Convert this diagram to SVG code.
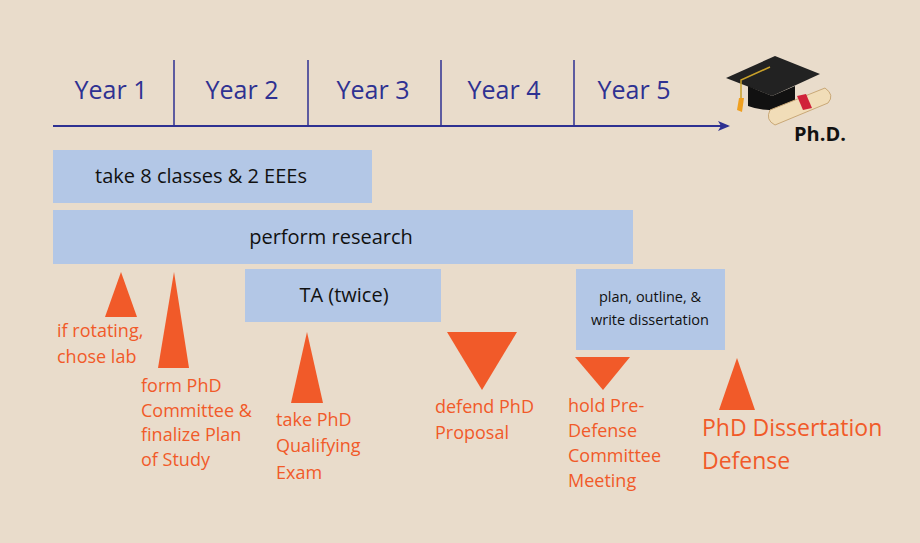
<svg xmlns="http://www.w3.org/2000/svg" width="920" height="543" viewBox="0 0 920 543">
<style>
.yr{font-family:"Open Sans","Liberation Sans",sans-serif;font-size:25px;fill:#2e3192;text-anchor:middle}
.bx{fill:#b3c7e6}
.bt{font-family:"Open Sans","Liberation Sans",sans-serif;font-size:20px;fill:#111;text-anchor:middle}
.sm{font-size:14.5px}
.ot{font-family:"Open Sans","Liberation Sans",sans-serif;font-size:18px;fill:#f15a29}
.lg{font-size:23px}
.tri{fill:#f15a29}
</style>
<defs><marker id="ah" markerWidth="12" markerHeight="10" refX="10" refY="5" orient="auto" markerUnits="userSpaceOnUse"><path d="M0,0 L12,5 L0,10 L3,5 Z" fill="#2e3192"/></marker></defs>
<rect width="920" height="543" fill="#e9dccb"/>
<g id="timeline">
<line x1="53" y1="126" x2="728" y2="126" stroke="#2e3192" stroke-width="2" marker-end="url(#ah)"/>
<g stroke="#2e3192" stroke-width="1.5"><line x1="174" y1="60" x2="174" y2="126"/><line x1="308" y1="60" x2="308" y2="126"/><line x1="441" y1="60" x2="441" y2="126"/><line x1="574" y1="60" x2="574" y2="126"/></g>
<text class="yr" x="111" y="99">Year 1</text><text class="yr" x="242" y="99">Year 2</text><text class="yr" x="373" y="99">Year 3</text><text class="yr" x="504" y="99">Year 4</text><text class="yr" x="634" y="99">Year 5</text>
</g>
<g id="phd">
<path d="M726,78 L775,56 L820,74 L772,96 Z" fill="#222"/>
<path d="M748,86 L748,106 Q772,115 795,104 L795,86 L772,96 Z" fill="#111"/>
<path d="M770,67 L741,80 L741,100" stroke="#c8a02a" stroke-width="1.5" fill="none"/>
<path d="M739,98 L744,98 L742,112 L737,110 Z" fill="#f0a020"/>
<path d="M770,110 L825,88 Q835,95 828,103 L775,125 Q765,120 770,110 Z" fill="#f1ddb8" stroke="#c9a877" stroke-width="1"/>
<path d="M797,96 L803,110 L812,108 L806,94 Z" fill="#d0223a"/>
<text x="794" y="141" font-family="'Open Sans','Liberation Sans',sans-serif" font-size="20" font-weight="bold" fill="#111">Ph.D.</text>
</g>
<g id="classes"><rect class="bx" x="53" y="150" width="319" height="53"/><text class="bt" x="201" y="183">take 8 classes &amp; 2 EEEs</text></g>
<g id="research"><rect class="bx" x="53" y="210" width="580" height="54"/><text class="bt" x="331" y="244">perform research</text></g>
<g id="ta"><rect class="bx" x="245" y="269" width="196" height="53"/><text class="bt" x="344" y="302">TA (twice)</text></g>
<g id="write"><rect class="bx" x="576" y="269" width="149" height="81"/><text class="bt sm" x="650" y="302">plan, outline, &amp;</text><text class="bt sm" x="650" y="325">write dissertation</text></g>
<g id="m1"><polygon class="tri" points="121,272 137,317 105,317"/><text class="ot" x="57" y="337">if rotating,</text><text class="ot" x="57" y="363">chose lab</text></g>
<g id="m2"><polygon class="tri" points="174,272 189,368 158,368"/><text class="ot" x="141" y="392">form PhD</text><text class="ot" x="141" y="417">Committee &amp;</text><text class="ot" x="141" y="441">finalize Plan</text><text class="ot" x="141" y="466">of Study</text></g>
<g id="m3"><polygon class="tri" points="307,332 323,403 291,403"/><text class="ot" x="276" y="426">take PhD</text><text class="ot" x="276" y="452">Qualifying</text><text class="ot" x="276" y="479">Exam</text></g>
<g id="m4"><polygon class="tri" points="447,332 517,332 482,390"/><text class="ot" x="435" y="413">defend PhD</text><text class="ot" x="435" y="439">Proposal</text></g>
<g id="m5"><polygon class="tri" points="575,357 630,357 603,390"/><text class="ot" x="568" y="412">hold Pre-</text><text class="ot" x="568" y="437">Defense</text><text class="ot" x="568" y="462">Committee</text><text class="ot" x="568" y="487">Meeting</text></g>
<g id="m6"><polygon class="tri" points="737,358 755,410 719,410"/><text class="ot lg" x="702" y="436">PhD Dissertation</text><text class="ot lg" x="702" y="469">Defense</text></g>
</svg>
